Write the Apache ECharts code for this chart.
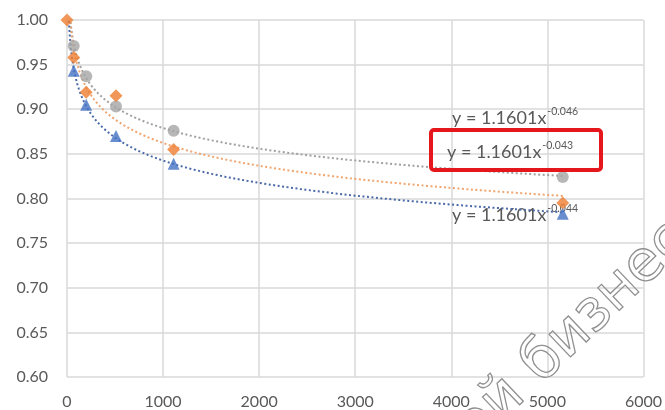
<!DOCTYPE html>
<html><head><meta charset="utf-8">
<script src="https://cdn.jsdelivr.net/npm/echarts@6/dist/echarts.min.js"></script>
<style>html,body{margin:0;padding:0;background:#fff}#c{width:665px;height:410px}</style>
</head><body><div id="c"></div>
<script>
// ---- data ----
const xValues = [70, 200, 510, 1110, 5160];
const graySeries = [0.971, 0.937, 0.903, 0.876, 0.824];
const orangeSeries = [0.958, 0.919, 0.915, 0.855, 0.795];
const blueSeries = [0.943, 0.905, 0.870, 0.839, 0.783];
const orangeStart = [0, 1.0];
const xAxisRange = [0, 6000, 1000];
const yAxisRange = [0.6, 1.0, 0.05];
const eqBase = ['y = 1.1601x', 'y = 1.1601x', 'y = 1.1601x'];
const eqExp = ['-0.046', '-0.043', '-0.044'];
const watermarkA = 'Мой';
const watermarkB = 'бизнес';

// power trendline fit (least squares on ln-ln), drawn over the data x-range
function powerFit(xs, ys) {
  const lx = xs.map(Math.log), ly = ys.map(Math.log);
  const n = lx.length;
  const mx = lx.reduce((s, v) => s + v, 0) / n, my = ly.reduce((s, v) => s + v, 0) / n;
  let sxy = 0, sxx = 0;
  for (let i = 0; i < n; i++) { sxy += (lx[i] - mx) * (ly[i] - my); sxx += (lx[i] - mx) ** 2; }
  const b = sxy / sxx, a = Math.exp(my - b * mx);
  return { a, b };
}
function trend(ys) {
  const f = powerFit(xValues, ys);
  const pts = [];
  const x0 = 8, x1 = xValues[xValues.length - 1];
  const N = 300;
  for (let i = 0; i <= N; i++) {
    const x = x0 * Math.pow(x1 / x0, i / N);
    pts.push([x, f.a * Math.pow(x, f.b)]);
  }
  return pts;
}
const pairs = ys => xValues.map((x, i) => [x, ys[i]]);

const FONT = 'Lato';
const EQ_FONT = '18px ' + FONT, SUP_FONT = '10.5px ' + FONT;
const mctx = document.createElement('canvas').getContext('2d');
function textW(t, f) { mctx.font = f; return mctx.measureText(t).width; }

function equation(i, x, y) {
  const w = textW(eqBase[i], EQ_FONT);
  return [
    { type: 'text', x: x, y: y, z: 1, style: { text: eqBase[i], font: EQ_FONT, fill: '#595959', textVerticalAlign: 'middle' } },
    { type: 'text', x: x + w + 1, y: y - 6, z: 1, style: { text: eqExp[i], font: SUP_FONT, fill: '#595959', textVerticalAlign: 'middle' } }
  ];
}

const chart = echarts.init(document.getElementById('c'));
const dotted = (color) => ({ color, width: 2, type: [2, 2.5] });
const WM_FONT = '57px "DejaVu Sans"';
const wmStyle = (t, align) => ({ text: t, font: WM_FONT, fill: 'rgba(255,255,255,0)', stroke: '#909090', lineWidth: 1.3, textAlign: align, textVerticalAlign: 'middle' });

chart.setOption({
  animation: false,
  backgroundColor: '#fff',
  grid: { left: 67, right: 20, top: 20, bottom: 33 },
  xAxis: {
    type: 'value', min: xAxisRange[0], max: xAxisRange[1], interval: xAxisRange[2],
    axisLine: { show: false }, axisTick: { show: false },
    splitLine: { show: true, lineStyle: { color: '#d9d9d9', width: 1.5 } },
    axisLabel: { color: '#595959', fontFamily: FONT, fontSize: 16, margin: 17, formatter: v => String(v) }
  },
  yAxis: {
    type: 'value', min: yAxisRange[0], max: yAxisRange[1], interval: yAxisRange[2],
    axisLine: { show: false }, axisTick: { show: false },
    splitLine: { show: true, lineStyle: { color: '#d9d9d9', width: 1.5 } },
    axisLabel: { color: '#595959', fontFamily: FONT, fontSize: 16, margin: 19, formatter: v => v.toFixed(2) }
  },
  series: [
    { type: 'line', data: trend(graySeries), showSymbol: false, lineStyle: dotted('#a0a0a0'), z: 2, silent: true },
    { type: 'line', data: trend(orangeSeries), showSymbol: false, lineStyle: dotted('#f0a46e'), z: 2, silent: true },
    { type: 'line', data: trend(blueSeries), showSymbol: false, lineStyle: dotted('#4a6aa8'), z: 2, silent: true },
    { type: 'scatter', data: pairs(graySeries), symbol: 'circle', symbolSize: 12, itemStyle: { color: '#a5a5a5' }, z: 3 },
    { type: 'scatter', data: [orangeStart].concat(pairs(orangeSeries)), symbol: 'diamond', symbolSize: 13, itemStyle: { color: '#ed7d31' }, z: 4 },
    { type: 'scatter', data: pairs(blueSeries), symbol: 'triangle', symbolSize: 12, itemStyle: { color: '#4472c4' }, z: 5 }
  ],
  graphic: [].concat(
    equation(0, 452, 118),
    equation(1, 447, 152),
    equation(2, 452, 215),
    [
      { type: 'rect', z: 50, shape: { x: 431, y: 130, width: 170, height: 40, r: 3 }, style: { fill: 'none', stroke: '#e5161c', lineWidth: 4 } },
      { type: 'text', z: 60, x: 531, y: 374, rotation: 0.76, style: wmStyle(watermarkB, 'left') },
      { type: 'text', z: 60, x: 517, y: 387, rotation: 0.76, style: wmStyle(watermarkA, 'right') }
    ]
  )
});
</script></body></html>
